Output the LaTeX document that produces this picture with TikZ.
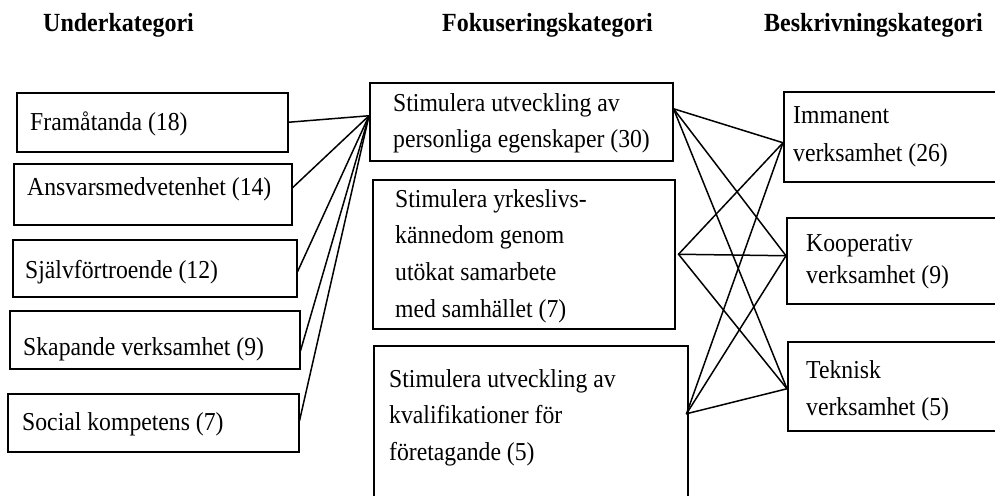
\documentclass[tikz,border=0pt]{standalone}
\usepackage{fontspec}
\usepackage{graphicx}
\setmainfont{Liberation Serif}
\newcommand{\vst}[1]{\scalebox{1}[1.09]{#1}}
\begin{document}
\begin{tikzpicture}[x=1pt,y=-1pt,
  box/.style={draw,line width=1.5pt,inner sep=0pt,anchor=north west,rectangle},
  txt/.style={inner sep=0pt,anchor=base west,font=\fontsize{23.7}{30}\selectfont},
  head/.style={inner sep=0pt,anchor=base west,font=\fontsize{24}{30}\selectfont\bfseries},
  link/.style={line width=1.5pt,line cap=round}]
\useasboundingbox (0,0) rectangle (995,495);
\clip (0,0) rectangle (995,495);
% headers
\node[head] (h1) at (43,32) {\vst{Underkategori}};
\node[head] (h2) at (442,32) {\vst{Fokuseringskategori}};
\node[head] (h3) at (764,32) {\vst{Beskrivningskategori}};
% left boxes
\node[box,minimum width=271pt,minimum height=59pt] (b1) at (16,92) {};
\node[box,minimum width=278pt,minimum height=61pt] (b2) at (13,163) {};
\node[box,minimum width=284pt,minimum height=57pt] (b3) at (12,239) {};
\node[box,minimum width=290pt,minimum height=58pt] (b4) at (9,310) {};
\node[box,minimum width=291pt,minimum height=58pt] (b5) at (7,393) {};
\node[txt] (tb1) at (30,130) {\vst{Framåtanda (18)}};
\node[txt] (tb2) at (27,195) {\vst{Ansvarsmedvetenhet (14)}};
\node[txt] (tb3) at (25,278) {\vst{Självförtroende (12)}};
\node[txt] (tb4) at (23,355) {\vst{Skapande verksamhet (9)}};
\node[txt] (tb5) at (22,430) {\vst{Social kompetens (7)}};
% middle boxes
\node[box,minimum width=303pt,minimum height=78pt] (m1) at (369,82) {};
\node[box,minimum width=302pt,minimum height=149pt] (m2) at (372,179) {};
\node[box,minimum width=314pt,minimum height=185pt] (m3) at (373,345) {};
\node[txt] (tm1a) at (393,111) {\vst{Stimulera utveckling av}};
\node[txt] (tm1b) at (393,147) {\vst{personliga egenskaper (30)}};
\node[txt] (tm2a) at (395,207) {\vst{Stimulera yrkeslivs-}};
\node[txt] (tm2b) at (395,243) {\vst{kännedom genom}};
\node[txt] (tm2c) at (395,280) {\vst{utökat samarbete}};
\node[txt] (tm2d) at (395,317) {\vst{med samhället (7)}};
\node[txt] (tm3a) at (389,387) {\vst{Stimulera utveckling av}};
\node[txt] (tm3b) at (389,423) {\vst{kvalifikationer för}};
\node[txt] (tm3c) at (389,460) {\vst{företagande (5)}};
% right boxes
\node[box,minimum width=230pt,minimum height=90pt] (r1) at (783,91) {};
\node[box,minimum width=230pt,minimum height=86pt] (r2) at (786,217) {};
\node[box,minimum width=230pt,minimum height=89pt] (r3) at (787,341) {};
\node[txt] (tr1a) at (793,123) {\vst{Immanent}};
\node[txt] (tr1b) at (793,161) {\vst{verksamhet (26)}};
\node[txt] (tr2a) at (806,251) {\vst{Kooperativ}};
\node[txt] (tr2b) at (806,283) {\vst{verksamhet (9)}};
\node[txt] (tr3a) at (806,378) {\vst{Teknisk}};
\node[txt] (tr3b) at (806,415) {\vst{verksamhet (5)}};
% connection points
\coordinate (hub) at ([yshift=6pt]m1.west);
\coordinate (m1e) at ([yshift=13pt]m1.east);
\coordinate (m2e) at ([xshift=3pt]m2.east);
\coordinate (m3e) at ([xshift=-2pt,yshift=24.5pt]m3.east);
\coordinate (r1w) at ([yshift=-6pt]r1.west);
\coordinate (r2w) at ([yshift=5pt]r2.west);
\coordinate (r3w) at ([yshift=-2.5pt]r3.west);
% left connectors
\draw[link] (b1.east) -- (hub);
\draw[link] ([yshift=6.5pt]b2.east) -- (hub);
\draw[link] ([yshift=-3.5pt]b3.east) -- (hub);
\draw[link] ([yshift=-11pt]b4.east) -- (hub);
\draw[link] ([yshift=2pt]b5.east) -- (hub);
% right connectors
\foreach \m in {m1e,m2e,m3e}{
  \foreach \r in {r1w,r2w,r3w}{
    \draw[link] (\m) -- (\r);
  }
}
\end{tikzpicture}
\end{document}
